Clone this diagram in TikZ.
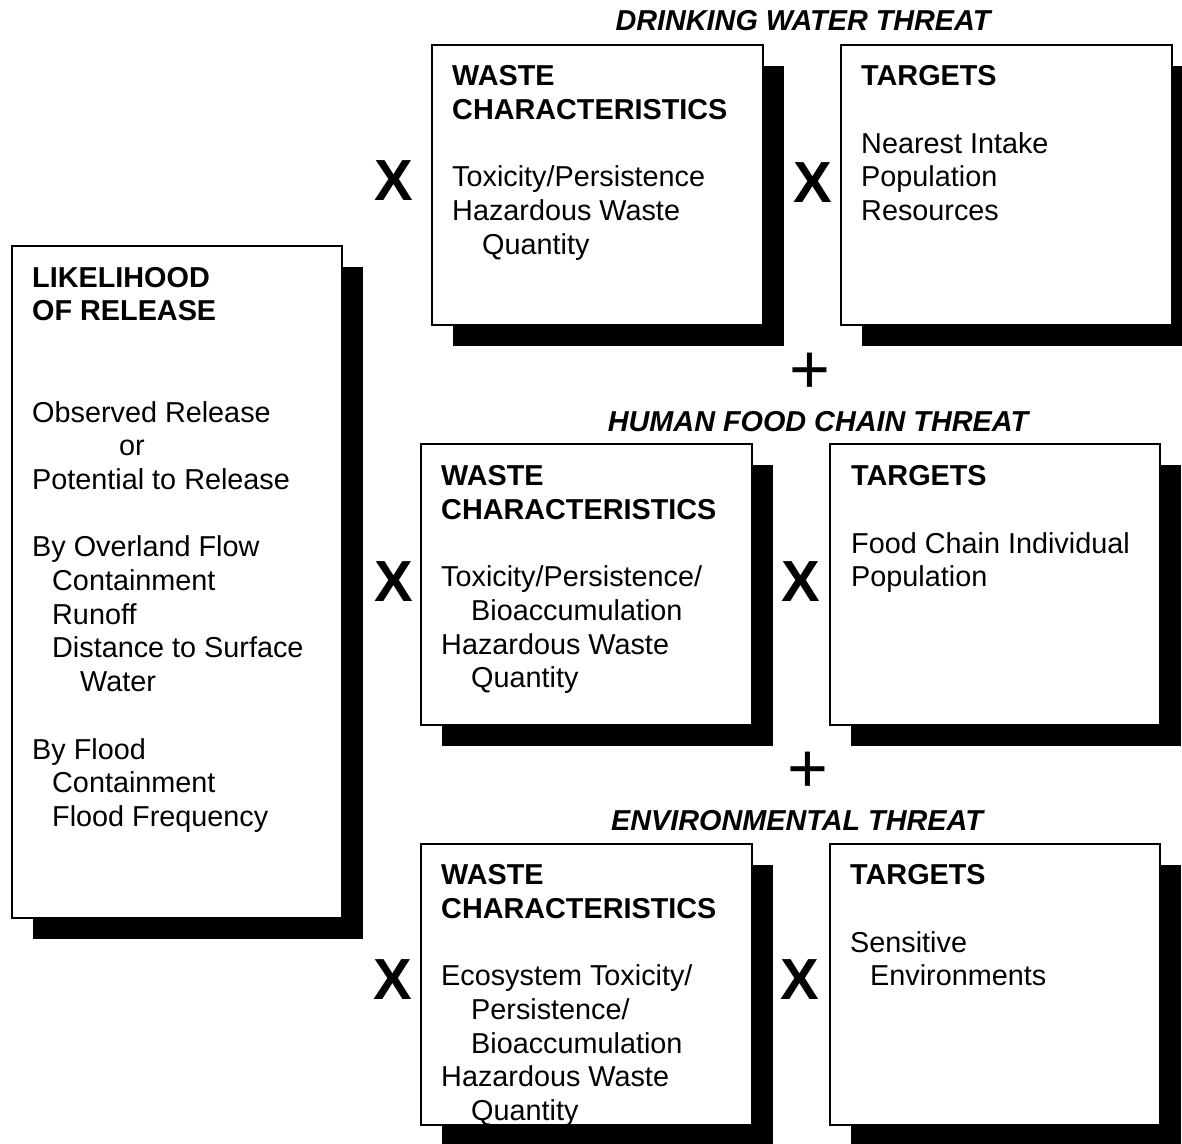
\documentclass[tikz,border=0pt]{standalone}
\usepackage{fontspec}
\setmainfont{Liberation Sans}
\tikzset{
  box/.style={draw=black, line width=1.4pt, fill=white},
  shadow/.style={fill=black},
  txt/.style={anchor=north west, inner sep=0pt, align=left, font=\fontsize{28.8}{33.7}\selectfont},
  title/.style={anchor=base, inner sep=0pt, font=\fontsize{28.8}{33.7}\selectfont\bfseries\itshape},
  times/.style={inner sep=0pt, font=\fontsize{58}{60}\selectfont\bfseries},
  plus/.style={inner sep=0pt, font=\fontsize{70}{72}\selectfont},
}
\newcommand{\fl}{\rule{0pt}{24pt}}
\newcommand{\ind}[1]{\hspace*{#1pt}}
\begin{document}
\begin{tikzpicture}[x=1pt,y=-1pt]
\useasboundingbox (0,0) rectangle (1182,1143);
\begin{scope}
\clip (0,0) rectangle (1182,1143);
% shadows
\foreach \a/\b/\c/\d in {12/246/342/918, 432/45/763/325, 841/45/1172/325, 421/444/752/725, 830/444/1160/725, 421/844/752/1125, 830/844/1160/1125}{
  \fill[shadow] (\a+21,\b+21) rectangle (\c+21,\d+21);
}
\end{scope}
% boxes
\path[box] (12,246) rectangle (342,918);
\path[box] (432,45) rectangle (763,325);
\path[box] (841,45) rectangle (1172,325);
\path[box] (421,444) rectangle (752,725);
\path[box] (830,444) rectangle (1160,725);
\path[box] (421,844) rectangle (752,1125);
\path[box] (830,844) rectangle (1160,1125);
% titles
\node[title] (t1) at (803,30) {DRINKING WATER THREAT};
\node[title] (t2) at (818,431) {HUMAN FOOD CHAIN THREAT};
\node[title] (t3) at (797,830) {ENVIRONMENTAL THREAT};
% likelihood
\node[txt] (lik) at (32,287-24) {\fl\textbf{LIKELIHOOD}\\\textbf{OF RELEASE}\\[67.4pt]
Observed Release\\\ind{87}or\\Potential to Release\\[33.7pt]
By Overland Flow\\\ind{20}Containment\\\ind{20}Runoff\\\ind{20}Distance to Surface\\\ind{48}Water\\[33.7pt]
By Flood\\\ind{20}Containment\\\ind{20}Flood Frequency};
% row 1
\node[txt] (wc1) at (452,85.5-24) {\fl\textbf{WASTE}\\\textbf{CHARACTERISTICS}\\[33.7pt]
Toxicity/Persistence\\Hazardous Waste\\\ind{30}Quantity};
\node[txt] (tg1) at (861,85.5-24) {\fl\textbf{TARGETS}\\[33.7pt]
Nearest Intake\\Population\\Resources};
% row 2
\node[txt] (wc2) at (441,485.5-24) {\fl\textbf{WASTE}\\\textbf{CHARACTERISTICS}\\[33.7pt]
Toxicity/Persistence/\\\ind{30}Bioaccumulation\\Hazardous Waste\\\ind{30}Quantity};
\node[txt] (tg2) at (851,485.5-24) {\fl\textbf{TARGETS}\\[33.7pt]
Food Chain Individual\\Population};
% row 3
\node[txt] (wc3) at (441,884.5-24) {\fl\textbf{WASTE}\\\textbf{CHARACTERISTICS}\\[33.7pt]
Ecosystem Toxicity/\\\ind{30}Persistence/\\\ind{30}Bioaccumulation\\Hazardous Waste\\\ind{30}Quantity};
\node[txt] (tg3) at (850,884.5-24) {\fl\textbf{TARGETS}\\[33.7pt]
Sensitive\\\ind{20}Environments};
% operators
\node[times] (x1a) at (394,181) {X};
\node[times] (x1b) at (813,183) {X};
\node[times] (x2a) at (394,582) {X};
\node[times] (x2b) at (801,582) {X};
\node[times] (x3a) at (393,980) {X};
\node[times] (x3b) at (800,980) {X};
\node[plus] (p1) at (810,373) {+};
\node[plus] (p2) at (808,772) {+};
\end{tikzpicture}
\end{document}
